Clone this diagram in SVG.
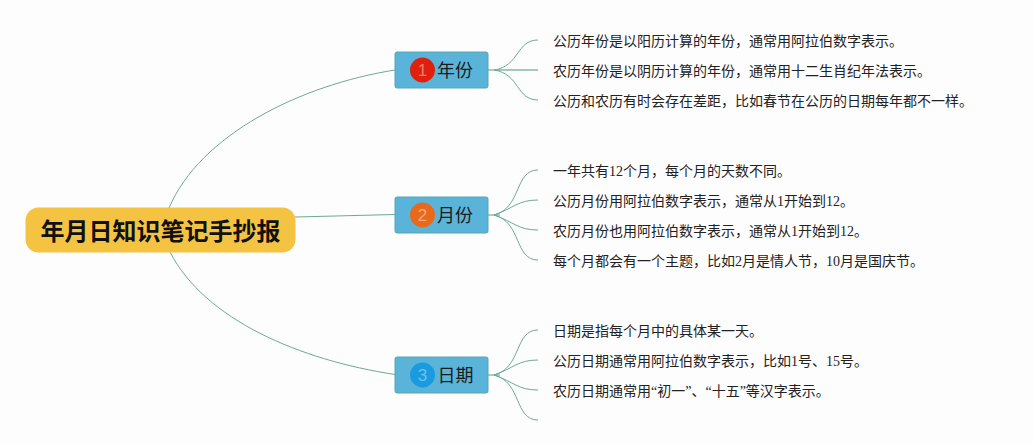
<svg xmlns="http://www.w3.org/2000/svg" width="1033" height="445" viewBox="0 0 1033 445">
<style>
.c{fill:none;stroke:#6fa899;stroke-width:1}
.b{fill:none;stroke:#86b8a9;stroke-width:1.4}
.t{font-family:"Liberation Serif","Noto Sans CJK SC",sans-serif;font-size:14px;fill:#222}
.box{fill:#5ab4d9;stroke:#58a6ad;stroke-width:1}
.lb{font-family:"Noto Sans CJK SC",sans-serif;font-size:18px;fill:#1a1a1a;text-anchor:middle}
.n{font-family:"Liberation Sans",sans-serif;font-size:17px;text-anchor:middle}
</style>
<rect width="1033" height="445" fill="#fdfdfd"/>
<g id="connectors">
<path class="c" d="M169 208C200 135 300 85 395 70"/>
<path class="c" d="M295 217L395 214.500"/>
<path class="c" d="M170 252C205 320 300 360 395 374.500"/>
<g id="c1">
<path class="b" d="M488 70H500"/>
<path class="c" d="M494 70C520 66 516 40 538 40"/>
<path class="b" d="M494 70H538"/>
<path class="c" d="M494 70C520 74 516 100 538 100"/>
</g>
<g id="c2">
<path class="b" d="M488 215H500"/>
<path class="c" d="M494 215C522 208 514 170 538 170"/>
<path class="c" d="M494 215C514 208 518 200 538 200"/>
<path class="c" d="M494 215C514 222 518 230 538 230"/>
<path class="c" d="M494 215C522 222 514 260 538 260"/>
</g>
<g id="c3">
<path class="b" d="M488 375H500"/>
<path class="c" d="M494 375C522 368 514 330 538 330"/>
<path class="c" d="M494 375C514 368 518 360 538 360"/>
<path class="c" d="M494 375C514 382 518 390 538 390"/>
<path class="c" d="M494 375C522 382 514 420 538 420"/>
</g>
</g>
<g id="root">
<rect x="25.500" y="207.500" width="270" height="45" rx="13" fill="#f5c342"/>
<text x="160.500" y="240" font-family="Noto Sans CJK SC,sans-serif" font-size="24" font-weight="700" fill="#111" text-anchor="middle">年月日知识笔记手抄报</text>
</g>
<g id="node-year">
<rect class="box" x="395" y="52" width="93" height="36" rx="2"/>
<circle cx="422.500" cy="70" r="12.500" fill="#e0200c"/>
<text class="n" x="422.500" y="76" fill="#e8806f">1</text>
<text class="lb" x="455" y="77">年份</text>
</g>
<g id="node-month">
<rect class="box" x="395" y="197" width="93" height="36" rx="2"/>
<circle cx="422.500" cy="215" r="12.500" fill="#e8691a"/>
<text class="n" x="422.500" y="221" fill="#eeaa80">2</text>
<text class="lb" x="455" y="222">月份</text>
</g>
<g id="node-day">
<rect class="box" x="395" y="357" width="93" height="36" rx="2"/>
<circle cx="422.500" cy="375" r="12.500" fill="#1a9be0"/>
<text class="n" x="422.500" y="381" fill="#70c0ec">3</text>
<text class="lb" x="455.500" y="382">日期</text>
</g>
<g id="leaves">
<text class="t" x="553" y="46">公历年份是以阳历计算的年份，通常用阿拉伯数字表示。</text>
<text class="t" x="553" y="76">农历年份是以阴历计算的年份，通常用十二生肖纪年法表示。</text>
<text class="t" x="553" y="106">公历和农历有时会存在差距，比如春节在公历的日期每年都不一样。</text>
<text class="t" x="553" y="176">一年共有12个月，每个月的天数不同。</text>
<text class="t" x="553" y="206">公历月份用阿拉伯数字表示，通常从1开始到12。</text>
<text class="t" x="553" y="236">农历月份也用阿拉伯数字表示，通常从1开始到12。</text>
<text class="t" x="553" y="266">每个月都会有一个主题，比如2月是情人节，10月是国庆节。</text>
<text class="t" x="553" y="336">日期是指每个月中的具体某一天。</text>
<text class="t" x="553" y="366">公历日期通常用阿拉伯数字表示，比如1号、15号。</text>
<text class="t" x="553" y="396">农历日期通常用“初一”、“十五”等汉字表示。</text>
</g>
</svg>
